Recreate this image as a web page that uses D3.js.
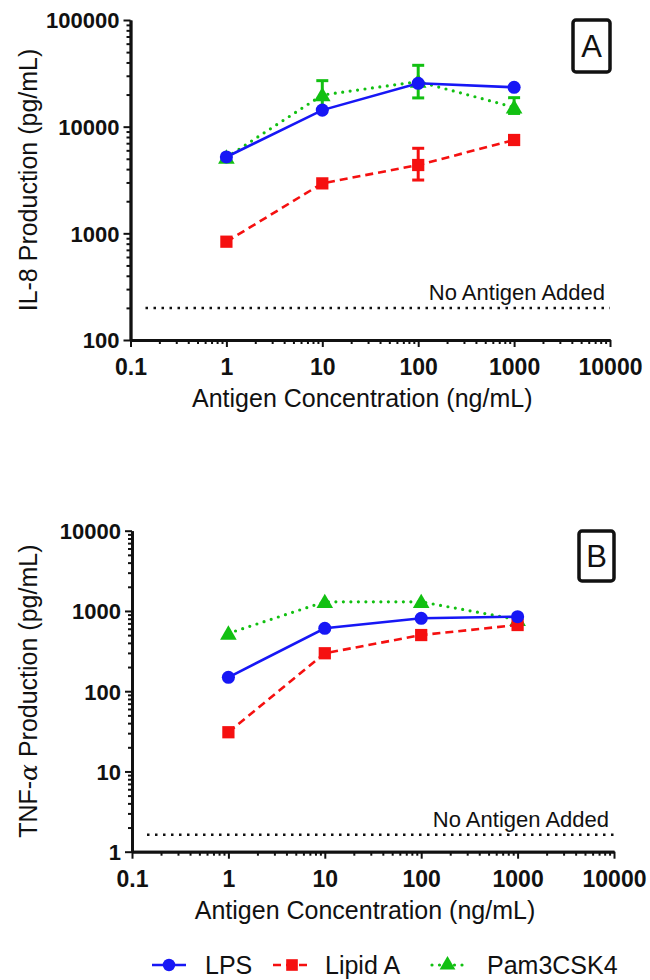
<!DOCTYPE html>
<html lang="en">
<head>
    <meta charset="UTF-8">
    <title>IL-8 and TNF-alpha production</title>
    <style>
        body {
            margin: 0;
            padding: 0;
            background-color: #ffffff;
        }
        svg text {
            font-family: "Liberation Sans", Arial, sans-serif;
            fill: #111111;
        }
    </style>
    <script src="https://d3js.org/d3.v7.min.js"></script>
</head>
<body>
    <script>
        const width = 650;
        const height = 980;

        // shared x values (ng/mL)
        const concentrations = [1, 10, 100, 1000];
        const xTicks = [0.1, 1, 10, 100, 1000, 10000];
        const xTickLabels = ["0.1", "1", "10", "100", "1000", "10000"];

        // panel A : IL-8 (pg/mL)
        const il8LPS = [5200, 14300, 25500, 23400];
        const il8LipidA = [835, 2940, 4370, 7500];
        const il8LipidALow = [null, null, 3160, null];
        const il8LipidAHigh = [null, null, 6270, null];
        const il8Pam = [5150, 19800, 26500, 15200];
        const il8PamLow = [null, 14500, 18600, 13300];
        const il8PamHigh = [null, 27000, 37600, 18700];
        const il8Baseline = 200;
        const il8Ticks = [100, 1000, 10000, 100000];
        const il8TickLabels = ["100", "1000", "10000", "100000"];

        // panel B : TNF-alpha (pg/mL)
        const tnfLPS = [149, 608, 810, 848];
        const tnfLipidA = [30.8, 297, 501, 668];
        const tnfPam = [526, 1300, 1300, 780];
        const tnfBaseline = 1.63;
        const tnfTicks = [1, 10, 100, 1000, 10000];
        const tnfTickLabels = ["1", "10", "100", "1000", "10000"];

        const seriesNames = ["LPS", "Lipid A", "Pam3CSK4"];

        const blue = "#1717f5";
        const red = "#f51010";
        const green = "#12c012";

        const svg = d3.select("body").append("svg")
            .attr("width", width)
            .attr("height", height);

        function minorTicks(lo, hi) {
            const out = [];
            for (let d = lo; d < hi; d *= 10) {
                for (let k = 2; k <= 9; k++) out.push(d * k);
            }
            return out;
        }

        const styles = {
            LPS: { color: blue, dash: null, cap: "butt", symbol: d3.symbolCircle, size: 135 },
            "Lipid A": { color: red, dash: "8,5", cap: "butt", symbol: d3.symbolSquare, size: 150 },
            Pam3CSK4: { color: green, dash: "0,7.5", cap: "round", symbol: d3.symbolTriangle, size: 120 }
        };

        function drawPanel(opt) {
            const x = d3.scaleLog().domain([0.1, 10000]).range(opt.xRange);
            const y = d3.scaleLog().domain(opt.yDomain).range(opt.yRange);
            const g = svg.append("g");

            // baseline (no antigen)
            g.append("line")
                .attr("x1", opt.xRange[0] + 15).attr("x2", opt.xRange[1])
                .attr("y1", y(opt.baseline)).attr("y2", y(opt.baseline))
                .attr("stroke", "#111").attr("stroke-width", 2.5)
                .attr("stroke-dasharray", "2.5,5.5");
            g.append("text")
                .attr("x", opt.xRange[1] - 5)
                .attr("y", y(opt.baseline) - 8)
                .attr("text-anchor", "end")
                .attr("font-size", 22)
                .text("No Antigen Added");

            // series: green first, blue on top
            opt.series.forEach(s => {
                const st = styles[s.name];
                const pts = concentrations.map((c, i) => [x(c), y(s.values[i])]);
                g.append("path")
                    .attr("d", d3.line()(pts))
                    .attr("fill", "none")
                    .attr("stroke", st.color)
                    .attr("stroke-width", st.cap === "round" ? 3.2 : 2.6)
                    .attr("stroke-linecap", st.cap)
                    .attr("stroke-dasharray", st.dash);

                if (s.low) {
                    concentrations.forEach((c, i) => {
                        if (s.low[i] == null) return;
                        const cx = x(c);
                        const eg = g.append("g")
                            .attr("stroke", st.color).attr("stroke-width", 3);
                        eg.append("line").attr("x1", cx).attr("x2", cx)
                            .attr("y1", y(s.low[i])).attr("y2", y(s.high[i]));
                        [s.low[i], s.high[i]].forEach(v => {
                            eg.append("line").attr("x1", cx - 6).attr("x2", cx + 6)
                                .attr("y1", y(v)).attr("y2", y(v));
                        });
                    });
                }

                g.selectAll(null)
                    .data(concentrations)
                    .enter().append("path")
                    .attr("d", d3.symbol().type(st.symbol).size(st.size))
                    .attr("transform", (c, i) => `translate(${x(c)},${y(s.values[i]) + (st.symbol === d3.symbolTriangle ? 1.5 : 0)})`)
                    .attr("fill", st.color);
            });

            // x axis
            const xAxisG = g.append("g").attr("transform", `translate(0,${opt.yRange[0]})`);
            xAxisG.append("g")
                .call(d3.axisBottom(x).tickValues(minorTicks(0.1, 10000)).tickSize(4).tickSizeOuter(0).tickFormat(""));
            xAxisG.append("g")
                .call(d3.axisBottom(x).tickValues(xTicks).tickSize(7).tickSizeOuter(0)
                    .tickFormat((d, i) => xTickLabels[i]));
            xAxisG.selectAll("text")
                .attr("font-size", 23).attr("font-weight", "bold")
                .attr("dy", 0).attr("y", 35);

            // y axis
            const yAxisG = g.append("g").attr("transform", `translate(${opt.xRange[0]},0)`);
            yAxisG.append("g")
                .call(d3.axisLeft(y).tickValues(minorTicks(opt.yDomain[0], opt.yDomain[1])).tickSize(4).tickSizeOuter(0).tickFormat(""));
            yAxisG.append("g")
                .call(d3.axisLeft(y).tickValues(opt.yTicks).tickSize(7).tickSizeOuter(0)
                    .tickFormat((d, i) => opt.yTickLabels[i]));
            yAxisG.selectAll("text")
                .attr("font-size", 22).attr("font-weight", "bold")
                .attr("x", -11).attr("dy", "0.36em");

            g.selectAll(".domain").attr("stroke", "#111").attr("stroke-width", 2.8);
            g.selectAll(".tick line").attr("stroke", "#111").attr("stroke-width", 2);

            // axis titles
            g.append("text")
                .attr("x", (opt.xRange[0] + opt.xRange[1]) / 2 - 8)
                .attr("y", opt.yRange[0] + 67)
                .attr("text-anchor", "middle")
                .attr("font-size", 25)
                .text("Antigen Concentration (ng/mL)");

            const yt = g.append("text")
                .attr("transform", `translate(37,${(opt.yRange[0] + opt.yRange[1]) / 2}) rotate(-90)`)
                .attr("text-anchor", "middle")
                .attr("font-size", 25);
            opt.yTitle.forEach(part => {
                yt.append("tspan")
                    .attr("font-style", part.italic ? "italic" : null)
                    .attr("font-family", part.italic ? "'DejaVu Serif', serif" : null)
                    .text(part.text);
            });

            // panel letter box
            g.append("rect")
                .attr("x", opt.box[0]).attr("y", opt.box[1])
                .attr("width", opt.box[2]).attr("height", opt.box[3])
                .attr("rx", 3)
                .attr("fill", "none").attr("stroke", "#111").attr("stroke-width", 3.5);
            g.append("text")
                .attr("x", opt.box[0] + opt.box[2] / 2)
                .attr("y", opt.box[1] + opt.box[3] / 2 + 11)
                .attr("text-anchor", "middle")
                .attr("font-size", 31)
                .text(opt.letter);
        }

        drawPanel({
            xRange: [130.5, 610],
            yRange: [340, 20],
            yDomain: [100, 100000],
            yTicks: il8Ticks,
            yTickLabels: il8TickLabels,
            baseline: il8Baseline,
            yTitle: [{ text: "IL-8 Production (pg/mL)" }],
            box: [573, 20, 37, 52],
            letter: "A",
            series: [
                { name: "Pam3CSK4", values: il8Pam, low: il8PamLow, high: il8PamHigh },
                { name: "Lipid A", values: il8LipidA, low: il8LipidALow, high: il8LipidAHigh },
                { name: "LPS", values: il8LPS }
            ]
        });

        drawPanel({
            xRange: [132, 614],
            yRange: [851.7, 530.7],
            yDomain: [1, 10000],
            yTicks: tnfTicks,
            yTickLabels: tnfTickLabels,
            baseline: tnfBaseline,
            yTitle: [{ text: "TNF-" }, { text: "α", italic: true }, { text: " Production (pg/mL)" }],
            box: [579, 531, 35, 50],
            letter: "B",
            series: [
                { name: "Pam3CSK4", values: tnfPam },
                { name: "Lipid A", values: tnfLipidA },
                { name: "LPS", values: tnfLPS }
            ]
        });

        // legend
        const legendY = 965;
        const legendItems = [
            { name: seriesNames[0], x1: 152, x2: 186, textX: 205 },
            { name: seriesNames[1], x1: 273, x2: 311, textX: 325 },
            { name: seriesNames[2], x1: 432, x2: 463, textX: 487 }
        ];
        const legend = svg.append("g");
        legendItems.forEach(item => {
            const st = styles[item.name];
            legend.append("line")
                .attr("x1", item.x1).attr("x2", item.x2)
                .attr("y1", legendY).attr("y2", legendY)
                .attr("stroke", st.color)
                .attr("stroke-width", st.cap === "round" ? 3.2 : 2.6)
                .attr("stroke-linecap", st.cap)
                .attr("stroke-dasharray", st.dash);
            legend.append("path")
                .attr("d", d3.symbol().type(st.symbol).size(st.size * 0.9))
                .attr("transform", `translate(${(item.x1 + item.x2) / 2},${legendY})`)
                .attr("fill", st.color);
            legend.append("text")
                .attr("x", item.textX)
                .attr("y", legendY + 9)
                .attr("font-size", 25)
                .text(item.name);
        });
    </script>
</body>
</html>
